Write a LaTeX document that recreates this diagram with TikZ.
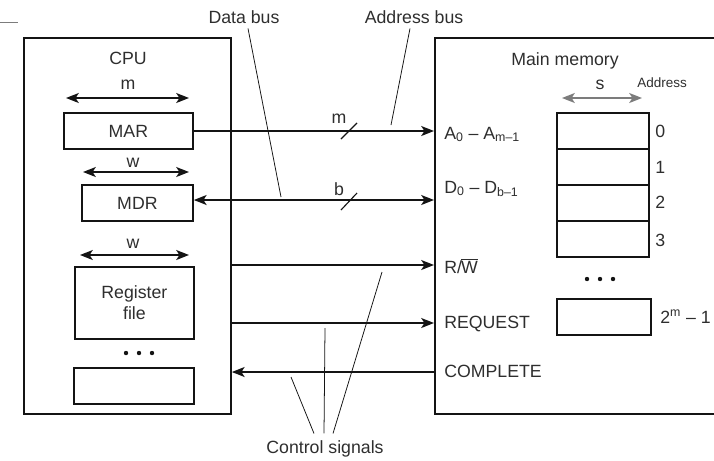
\documentclass[tikz,border=0pt]{standalone}
\usepackage{fontspec}
\setmainfont{Liberation Sans}
\usetikzlibrary{arrows.meta}
\definecolor{ink}{HTML}{2E2E2E}
\definecolor{strich}{HTML}{141414}
\definecolor{grau}{HTML}{7C7C7C}
\newcommand\lf{\fontsize{12.6}{15}\selectfont}
\newcommand\kf{\fontsize{9.6}{11}\selectfont}
\newcommand\beschr[5][base]{\node[anchor=#1,inner sep=0,font=\lf,text=ink] (#2) at (#3,#4) {#5};}
\newcommand\punkte[2]{\foreach \d in {-13,0,13} {\fill[strich] (#1+\d,#2) circle[radius=2.2];}}

\begin{document}
\begin{tikzpicture}[x=0.25mm,y=-0.25mm]
\useasboundingbox (0,0) rectangle (714,460);
\tikzset{kasten/.style={draw=strich,line width=1.3pt,anchor=north west,inner sep=0,font=\lf,text=ink},
  leitung/.style={strich,line width=1.1pt},
  spitze/.style={-{Stealth[length=3.2mm,width=2.5mm,inset=0.8mm]}},
  zweispitz/.style={{Stealth[length=3.2mm,width=2.5mm,inset=0.8mm]}-{Stealth[length=3.2mm,width=2.5mm,inset=0.8mm]}},
  zeiger/.style={strich,line width=0.55pt}}

% ---- Rest einer Linie oben links
\draw[grau,line width=0.7pt] (0,22) -- (18,22);

% ---- CPU ---------------------------------------------------------------------
\node[kasten,minimum width=51.75mm,minimum height=94mm] (cpu) at (23,37) {};
\beschr{tcpu}{128}{64}{CPU}
\beschr{tm}{128}{89}{m}
\draw[leitung,zweispitz] (66,98) -- (189,98);
\node[kasten,minimum width=32.25mm,minimum height=9mm] (mar) at (63,112) {MAR};
\beschr{tw}{133}{167}{w}
\draw[leitung,zweispitz] (83,172) -- (189,172);
\node[kasten,minimum width=27.75mm,minimum height=9mm] (mdr) at (81,184) {MDR};
\beschr{tww}{133}{248}{w}
\draw[leitung,zweispitz] (80,255) -- (189,255);
\node[kasten,minimum width=29.75mm,minimum height=18mm,align=center] (regs) at (74,266) {Register\\file};
\punkte{139}{353}
\node[kasten,minimum width=30mm,minimum height=9mm] (leer) at (73,367) {};

% ---- Hauptspeicher -----------------------------------------------------------
\node[kasten,minimum width=73mm,minimum height=94mm] (mem) at (434,37) {};
\beschr{tmem}{565}{65}{Main memory}
\beschr{ts}{600}{89}{s}
\draw[grau,line width=1.1pt,zweispitz] (562,98) -- (642,98);
\node[anchor=base west,inner sep=0,font=\kf,text=ink] (tadr) at (637,87) {Address};
% Speicherzellen mit Adressen
\foreach \i/\b in {0/137,1/173,2/208,3/246} {
  \node[kasten,minimum width=23mm,minimum height=9mm] (zelle\i) at (556,112+36*\i) {};
  \beschr[base west]{nr\i}{655}{\b}{\i}}
\punkte{600}{279}
\node[kasten,minimum width=23.5mm,minimum height=9mm] (zelleletzt) at (556,298) {};
\beschr[base west]{nrletzt}{660}{323}{2\textsuperscript{m} – 1}
% Anschlüsse
\beschr[base west]{ta}{444}{139}{A\textsubscript{0} – A\textsubscript{m–1}}
\beschr[base west]{td}{444}{193}{D\textsubscript{0} – D\textsubscript{b–1}}
\beschr[base west]{trw}{444}{273}{R/\kern-0.6pt$\overline{\hbox{\lf W}}$}
\beschr[base west]{treq}{444}{328}{REQUEST}
\beschr[base west]{tcom}{444}{377}{COMPLETE}
\coordinate (pa) at (434,131);
\coordinate (pd) at (434,200);
\coordinate (prw) at (434,265);
\coordinate (preq) at (434,323);
\coordinate (pcom) at (434,372);

% ---- Busse und Steuersignale -------------------------------------------------
\draw[leitung,spitze] (mar.east |- pa) -- (pa);
\draw[leitung,zweispitz] (mdr.east |- pd) -- (pd);
\draw[leitung,spitze] (cpu.east |- prw) -- (prw);
\draw[leitung,spitze] (cpu.east |- preq) -- (preq);
\draw[leitung,spitze] (pcom) -- (cpu.east |- pcom);
% Busbreiten
\draw[strich,line width=0.8pt] (341,139) -- (357,123);
\beschr{tbm}{339}{123}{m}
\draw[strich,line width=0.8pt] (341,210) -- (357,193);
\beschr{tbb}{339}{195}{b}

% ---- Beschriftung mit Zeigern ------------------------------------------------
\beschr{tdaten}{244}{23}{Data bus}
\beschr{tadresse}{414}{23}{Address bus}
\beschr{tsteuer}{325}{453}{Control signals}
\coordinate (zd) at (281,197);
\coordinate (za) at (391,125);
\draw[zeiger] ([xshift=1mm,yshift=-1.25mm]tdaten.south) -- (zd);
\draw[zeiger] ([xshift=-1mm,yshift=-1.25mm]tadresse.south) -- (za);
\draw[zeiger] ([xshift=-2.75mm,yshift=1.6mm]tsteuer.north) -- (291,377);
\draw[zeiger] ([xshift=-0.25mm,yshift=1.6mm]tsteuer.north) -- (325,328);
\draw[zeiger] ([xshift=2mm,yshift=1.6mm]tsteuer.north) -- (382,272);
\end{tikzpicture}
\end{document}
